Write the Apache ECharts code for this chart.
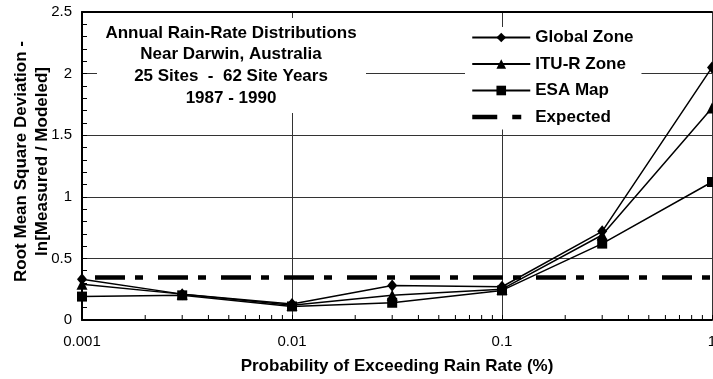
<!DOCTYPE html>
<html>
<head>
<meta charset="utf-8">
<script src="https://cdn.jsdelivr.net/npm/echarts@6/dist/echarts.min.js"></script>
<style>
  html, body { margin: 0; padding: 0; background: #fff; }
  #chart { width: 713px; height: 379px; }
</style>
</head>
<body>
<div id="chart"></div>
<script>
const FONT = "'Liberation Sans', Arial, sans-serif";

// exceedance probability (%) for each point
const probs = [0.001, 0.003, 0.01, 0.03, 0.1, 0.3, 1];
const globalZone = [0.33, 0.21, 0.13, 0.28, 0.27, 0.72, 2.05];
const ituZone = [0.29, 0.21, 0.12, 0.20, 0.25, 0.69, 1.72];
const esaMap = [0.19, 0.20, 0.11, 0.14, 0.24, 0.62, 1.12];
const expectedLevel = 0.345;

const yTicks = [0, 0.5, 1, 1.5, 2, 2.5];
const minorX = [];
[0.001, 0.01, 0.1].forEach((d) => {
    for (let m = 2; m <= 9; m++) minorX.push(+(m * d).toPrecision(3));
});

const titleLines = [
    "Annual Rain-Rate Distributions",
    "Near Darwin, Australia",
    "25 Sites  -  62 Site Years",
    "1987 - 1990",
];

const pairs = (ys) => probs.map((p, i) => [p, ys[i]]);

const chart = echarts.init(document.getElementById("chart"), null, { renderer: "canvas" });

const lineSeries = (name, ys, symbol, size) => ({
    name: name,
    type: "line",
    data: pairs(ys),
    symbol: symbol,
    symbolSize: size,
    itemStyle: { color: "#000" },
    lineStyle: { color: "#000", width: 1.5 },
    emphasis: { disabled: true },
    z: 3,
});

chart.setOption({
    animation: false,
    backgroundColor: "#fff",
    textStyle: { fontFamily: FONT, color: "#000" },
    grid: { left: 82, top: 12, right: 1, bottom: 59, containLabel: false, outerBoundsMode: "none" },
    xAxis: [
        {
            type: "log",
            logBase: 10,
            min: 0.001,
            max: 1,
            name: "Probability of Exceeding Rain Rate (%)",
            nameLocation: "middle",
            nameGap: 38,
            nameMoveOverlap: false,
            nameTextStyle: { fontSize: 17, fontWeight: "bold", color: "#000", fontFamily: FONT },
            axisLine: { lineStyle: { color: "#000", width: 2 } },
            axisTick: { show: true, inside: true, length: 5, lineStyle: { color: "#000" } },
            axisLabel: {
                fontSize: 15,
                color: "#000",
                margin: 14,
                formatter: (v) => String(+v.toPrecision(3)),
            },
            splitLine: { show: true, lineStyle: { color: "#333", width: 1 } },
        },
        {
            type: "value",
            position: "top",
            min: 0,
            max: 1,
            axisLine: { show: true, lineStyle: { color: "#000", width: 2 } },
            axisTick: { show: false },
            axisLabel: { show: false },
            splitLine: { show: false },
        },
    ],
    yAxis: {
        type: "value",
        min: 0,
        max: 2.5,
        interval: 0.5,
        name: "Root Mean Square Deviation -\nln[Measured / Modeled]",
        nameLocation: "middle",
        nameGap: 29,
        nameRotate: 90,
        nameMoveOverlap: false,
        nameTextStyle: {
            fontSize: 17,
            fontWeight: "bold",
            color: "#000",
            lineHeight: 21,
            fontFamily: FONT,
            padding: [0, 0, 0, 9],
        },
        axisLine: { show: true, lineStyle: { color: "#000", width: 2 } },
        axisTick: { show: true, inside: true, length: 5, lineStyle: { color: "#000" } },
        minorTick: { show: true, splitNumber: 5, length: 5, lineStyle: { color: "#000" } },
        axisLabel: {
            fontSize: 15,
            color: "#000",
            margin: 10,
            formatter: (v) => String(yTicks.find((t) => Math.abs(t - v) < 1e-9) ?? v),
        },
        splitLine: { show: true, lineStyle: { color: "#333", width: 1 } },
    },
    legend: {
        orient: "vertical",
        left: 465,
        top: 27,
        padding: [2, 8, 4, 5],
        backgroundColor: "#fff",
        itemWidth: 58,
        itemHeight: 12,
        itemGap: 9.5,
        textStyle: { fontSize: 17, fontWeight: "bold", color: "#000", lineHeight: 17, fontFamily: FONT },
        selectedMode: false,
        data: [
            { name: "Global Zone" },
            { name: "ITU-R Zone" },
            { name: "ESA Map" },
            {
                name: "Expected",
                itemStyle: { opacity: 0 },
                lineStyle: { type: [25, 15, 9, 20], dashOffset: 0, width: 4.5, color: "#000" },
            },
        ],
    },
    graphic: [
        {
            type: "rect",
            left: 97,
            top: 18,
            shape: { width: 269, height: 95 },
            style: { fill: "#fff" },
            z: 50,
        },
        {
            type: "text",
            x: 231,
            y: 22,
            z: 51,
            style: {
                text: titleLines.join("\n"),
                font: "bold 17px " + FONT,
                textAlign: "center",
                textVerticalAlign: "top",
                lineHeight: 21.7,
                fill: "#000",
            },
        },
    ],
    series: [
        lineSeries("Global Zone", globalZone, "diamond", [10, 12]),
        lineSeries("ITU-R Zone", ituZone, "triangle", 11),
        lineSeries("ESA Map", esaMap, "rect", 10),
        {
            name: "Expected",
            type: "line",
            data: [[probs[0], expectedLevel], [probs[probs.length - 1], expectedLevel]],
            symbol: "none",
            itemStyle: { color: "#000" },
            lineStyle: { color: "#000", width: 4.5, type: [30, 10, 8, 15], dashOffset: 50 },
            emphasis: { disabled: true },
            z: 4,
        },
        {
            type: "custom",
            silent: true,
            clip: false,
            data: minorX.map((v) => [v, 0]),
            renderItem: (params, api) => {
                const p = api.coord([api.value(0), 0]);
                return {
                    type: "line",
                    shape: { x1: p[0], y1: p[1], x2: p[0], y2: p[1] - 5 },
                    style: { stroke: "#000", lineWidth: 1 },
                };
            },
            z: 5,
        },
    ],
});
</script>
</body>
</html>
